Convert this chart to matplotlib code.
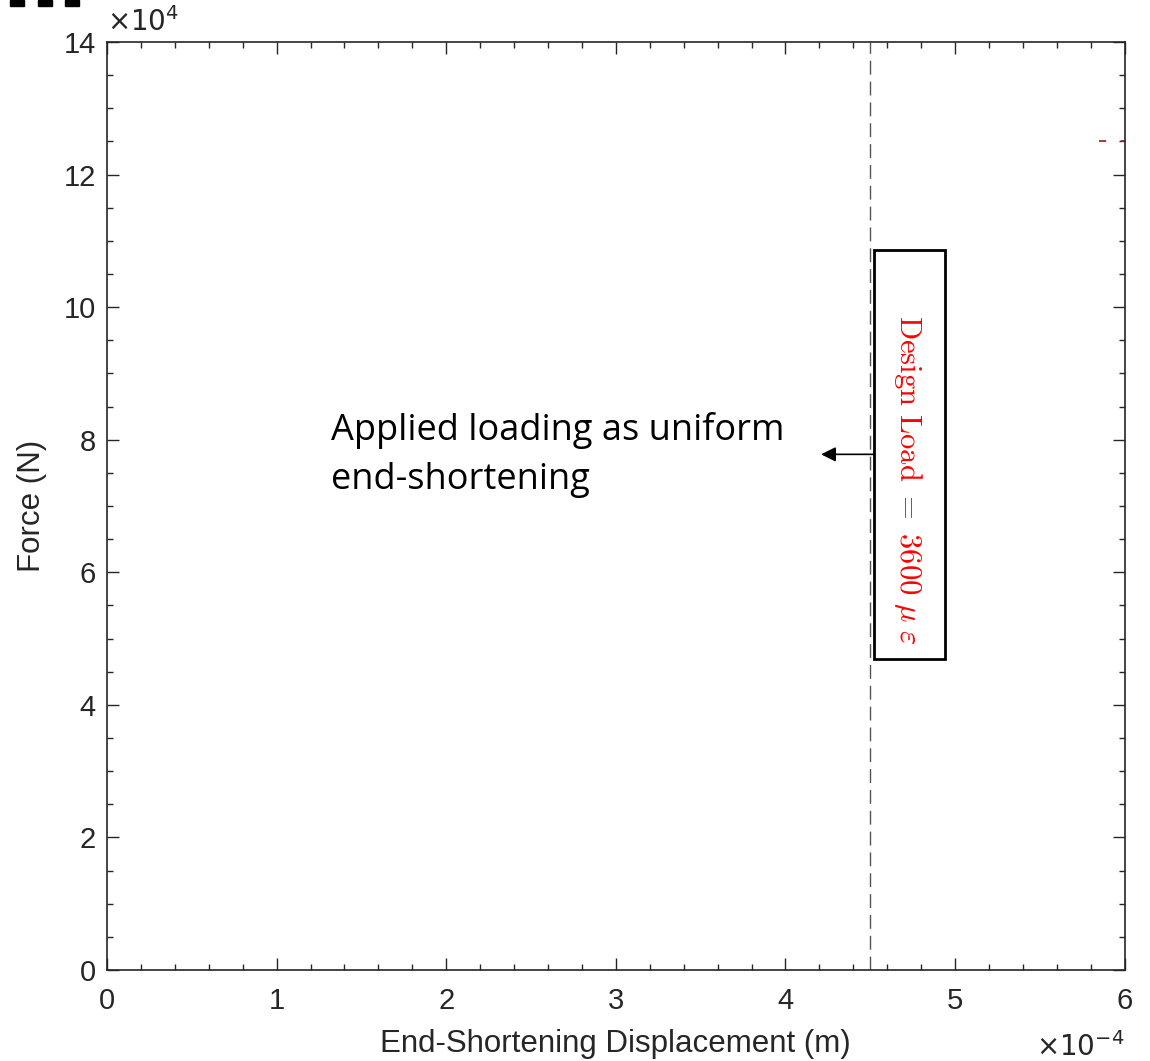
import numpy as np
import matplotlib.pyplot as plt
from matplotlib.patches import Rectangle
from matplotlib.ticker import MultipleLocator

# values in real units
x_lim = [0, 6e-4]
y_lim = [0, 14e4]
design_disp = 4.5e-4          # dashed line
box_x = [4.52e-4, 4.94e-4]    # text box around the label
box_y = [4.69e4, 10.87e4]
label_pos = [4.72e-4, 7.4e4]
arrow_start = [4.52e-4, 7.78e4]
arrow_end = [4.21e-4, 7.78e4]
note_pos = [1.32e-4, 7.77e4]
red_dash_x = [5.85e-4, 6.0e-4]
red_dash_y = [12.5e4, 12.5e4]

xs = 1e-4
ys = 1e4

plt.rcParams['font.family'] = ['Liberation Sans', 'DejaVu Sans']
plt.rcParams['mathtext.fontset'] = 'cm'

fig = plt.figure(figsize=(11.5, 10.61), dpi=100)
ax = fig.add_axes([0.093, 0.0857, 0.885, 0.8747])
ax.set_xlim(x_lim[0] / xs, x_lim[1] / xs)
ax.set_ylim(y_lim[0] / ys, y_lim[1] / ys)

c = '#262626'
ax.axvline(design_disp / xs, color='#555555', lw=1.0, dashes=(10, 5))
ax.plot(np.array(red_dash_x) / xs, np.array(red_dash_y) / ys,
        color='#a02828', lw=1.3, dashes=(4, 8))

ax.add_patch(Rectangle((box_x[0] / xs, box_y[0] / ys), (box_x[1] - box_x[0]) / xs,
                       (box_y[1] - box_y[0]) / ys, fill=False, ec='k', lw=2, zorder=3))
ax.text(label_pos[0] / xs, label_pos[1] / ys,
        r'$\mathrm{Design\ Load}\ =\ 3600\ \mu\ \varepsilon$', color='red',
        rotation=-90, ha='center', va='center', fontsize=22)

ax.annotate('', xy=(arrow_end[0] / xs, arrow_end[1] / ys),
            xytext=(arrow_start[0] / xs, arrow_start[1] / ys),
            arrowprops=dict(arrowstyle='-|>', color='k', lw=1.2, mutation_scale=22,
                            shrinkA=0, shrinkB=0))
ax.text(note_pos[0] / xs, note_pos[1] / ys, 'Applied loading as uniform\nend-shortening',
        fontsize=26, family=['Open Sans', 'DejaVu Sans'], ha='left', va='center',
        linespacing=1.45)

ax.xaxis.set_major_locator(MultipleLocator(1))
ax.xaxis.set_minor_locator(MultipleLocator(0.2))
ax.yaxis.set_major_locator(MultipleLocator(2))
ax.yaxis.set_minor_locator(MultipleLocator(0.5))
ax.tick_params(which='both', direction='in', top=True, right=True, colors=c,
               labelsize=21)
ax.tick_params(axis='x', pad=12)
ax.tick_params(axis='y', pad=8)
ax.tick_params(which='major', length=8.5, width=1)
ax.tick_params(which='minor', length=4.3, width=1)
for s in ax.spines.values():
    s.set_color(c)
    s.set_linewidth(1.2)

ax.set_xlabel('End-Shortening Displacement (m)', fontsize=22.5, color=c, labelpad=10)
ax.set_ylabel('Force (N)', fontsize=22.5, color=c, labelpad=12)

ax.text(0.0, 1.005, r'$\times10^{4}$', transform=ax.transAxes, fontsize=20, color=c,
        ha='left', va='bottom', math_fontfamily='dejavusans')
ax.text(1.0, -0.067, r'$\times10^{-4}$', transform=ax.transAxes, fontsize=20, color=c,
        ha='right', va='top', math_fontfamily='dejavusans')

# cropped marks at the top-left corner of the source image
for x0 in [10, 38, 65]:
    fig.patches.append(Rectangle((x0 / 1150, 1 - 6 / 1061), 14 / 1150, 6 / 1061,
                                 transform=fig.transFigure, color='k'))

fig.savefig('out.png', dpi=100)
